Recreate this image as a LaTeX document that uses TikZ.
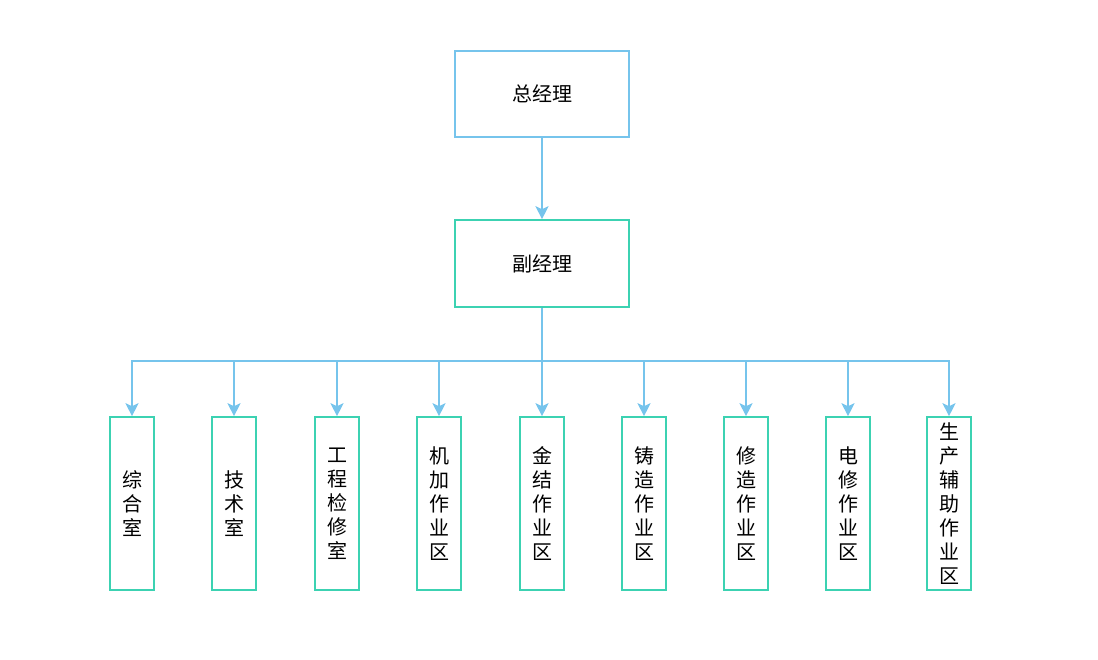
\documentclass[tikz,border=0pt]{standalone}
\usepackage{fontspec}
\setmainfont{Noto Sans CJK SC}
\usetikzlibrary{arrows.meta}
\definecolor{lblue}{RGB}{118,196,236}
\definecolor{lgreen}{RGB}{60,210,178}
\begin{document}
\begin{tikzpicture}[x=1pt,y=-1pt,
  topbox/.style={draw=lblue,line width=1.6pt,minimum width=174pt,minimum height=86pt,inner sep=0pt,font=\fontsize{20}{24}\selectfont},
  midbox/.style={draw=lgreen,line width=1.6pt,minimum width=174pt,minimum height=87pt,inner sep=0pt,font=\fontsize{20}{24}\selectfont},
  unitbox/.style={draw=lgreen,line width=1.6pt,minimum width=44pt,minimum height=173pt,inner sep=0pt,align=center,font=\fontsize{20}{24}\selectfont},
  arr/.style={draw=lblue,line width=1.6pt,-{Stealth[length=13pt,width=13pt,inset=3pt]}}]
\useasboundingbox (0,0) rectangle (1098,659);
\node[topbox] (gm) at (542,94) {总经理};
\node[midbox] (dgm) at (542,263.5) {副经理};
\coordinate (bus) at (542,361);
\node[unitbox] (b1) at (132,503.5) {综\\合\\室};
\node[unitbox] (b2) at (234,503.5) {技\\术\\室};
\node[unitbox] (b3) at (337,503.5) {工\\程\\检\\修\\室};
\node[unitbox] (b4) at (439,503.5) {机\\加\\作\\业\\区};
\node[unitbox] (b5) at (542,503.5) {金\\结\\作\\业\\区};
\node[unitbox] (b6) at (644,503.5) {铸\\造\\作\\业\\区};
\node[unitbox] (b7) at (746,503.5) {修\\造\\作\\业\\区};
\node[unitbox] (b8) at (848,503.5) {电\\修\\作\\业\\区};
\node[unitbox] (b9) at (949,503.5) {生\\产\\辅\\助\\作\\业\\区};
\draw[arr] (gm.south) -- (dgm.north);
\foreach \b in {b1,b2,b3,b4,b5,b6,b7,b8,b9}
  \draw[arr] (dgm.south) -- (bus) -| (\b.north);
\end{tikzpicture}
\end{document}
